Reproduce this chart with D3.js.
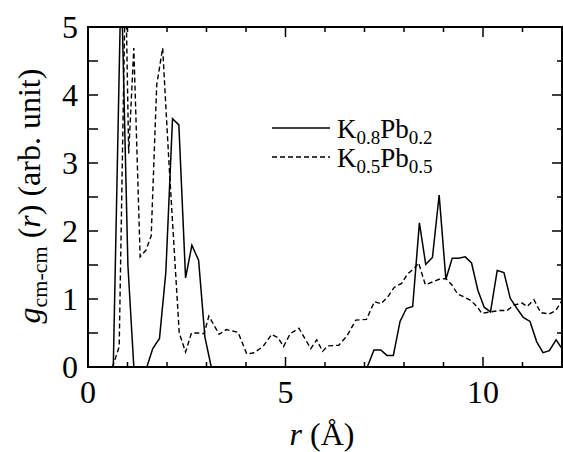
<!DOCTYPE html>
<html>
<head>
<meta charset="utf-8">
<script src="https://cdn.jsdelivr.net/npm/d3@7"></script>
<style>
  html, body { margin: 0; padding: 0; background: #fff; }
  svg { display: block; }
</style>
</head>
<body>
<svg id="chart" width="563" height="452"></svg>
<script>
// ---- data ----
const xTicksMajor = [0, 5, 10];
const xTicksMinor = [0, 1, 2, 3, 4, 5, 6, 7, 8, 9, 10, 11, 12];
const yTicksMajor = [0, 1, 2, 3, 4, 5];
const yTicksMinor = [0, 0.5, 1, 1.5, 2, 2.5, 3, 3.5, 4, 4.5, 5];

// K0.8Pb0.2 (solid)
const rSolid = [0, 0.64, 0.84, 1.01, 1.16, 1.49, 1.64, 1.81, 1.97, 2.14, 2.30, 2.47, 2.63, 2.80, 2.96, 3.12,
  7.07, 7.24, 7.41, 7.57, 7.73, 7.90, 8.06, 8.22, 8.39, 8.55, 8.72, 8.89, 9.06, 9.22, 9.38, 9.55, 9.71,
  9.87, 10.03, 10.19, 10.36, 10.53, 10.69, 10.86, 11.02, 11.19, 11.36, 11.52, 11.68, 11.85, 12.0];
const gSolid = [0, 0, 5.8, 1.5, 0, 0, 0.27, 0.42, 1.39, 3.65, 3.56, 1.31, 1.79, 1.57, 0.44, 0,
  0, 0.25, 0.25, 0.17, 0.17, 0.67, 0.86, 0.89, 2.12, 1.51, 1.61, 2.53, 1.29, 1.60, 1.60, 1.62, 1.53,
  1.13, 0.88, 0.81, 1.42, 1.39, 1.01, 0.86, 0.73, 0.67, 0.37, 0.21, 0.24, 0.40, 0.27];

// K0.5Pb0.5 (dashed)
const rDashed = [0, 0.62, 0.79, 0.95, 1.03, 1.16, 1.32, 1.47, 1.60, 1.74, 1.89, 2.05, 2.31, 2.47, 2.62, 2.78,
  2.94, 3.06, 3.32, 3.50, 3.80, 4.02, 4.20, 4.43, 4.65, 4.81, 4.95, 5.12, 5.34, 5.50, 5.64, 5.79, 5.94,
  6.07, 6.35, 6.56, 6.78, 7.05, 7.25, 7.42, 7.60, 7.75, 7.94, 8.09, 8.26, 8.37, 8.54, 8.72, 8.89, 9.06,
  9.21, 9.36, 9.52, 9.69, 9.86, 9.97, 10.19, 10.40, 10.61, 10.78, 10.99, 11.12, 11.29, 11.46, 11.67, 11.84, 12.0];
const gDashed = [0, 0, 0.3, 5.8, 3.14, 4.69, 1.62, 1.72, 1.93, 4.15, 4.69, 3.0, 0.50, 0.22, 0.50, 0.50,
  0.49, 0.75, 0.48, 0.55, 0.51, 0.19, 0.21, 0.30, 0.48, 0.43, 0.30, 0.49, 0.57, 0.41, 0.27, 0.40, 0.23,
  0.31, 0.32, 0.46, 0.69, 0.70, 0.96, 0.93, 1.04, 1.17, 1.23, 1.37, 1.45, 1.53, 1.21, 1.25, 1.29, 1.30,
  1.21, 1.07, 1.03, 0.98, 0.88, 0.79, 0.81, 0.83, 0.83, 0.91, 0.94, 0.89, 0.99, 0.80, 0.78, 0.83, 0.98];

const seriesLabels = [
  { main: "K", s1: "0.8", mid: "Pb", s2: "0.2" },
  { main: "K", s1: "0.5", mid: "Pb", s2: "0.5" }
];

// ---- layout ----
const FONT = "Liberation Serif";
const svg = d3.select("#chart");
const L = 88, R = 562, T = 27, B = 367;
const x = d3.scaleLinear().domain([0, 12]).range([L, R]);
const y = d3.scaleLinear().domain([0, 5]).range([B, T]);

svg.append("defs").append("clipPath").attr("id", "clip")
  .append("rect").attr("x", L).attr("y", T).attr("width", R - L).attr("height", B - T);

const line = d3.line().x(d => x(d[0])).y(d => y(d[1]));

const plot = svg.append("g").attr("clip-path", "url(#clip)");
plot.append("path")
  .datum(rDashed.map((r, i) => [r, gDashed[i]]))
  .attr("d", line).attr("fill", "none").attr("stroke", "#000")
  .attr("stroke-width", 1.4).attr("stroke-dasharray", "5,3");
plot.append("path")
  .datum(rSolid.map((r, i) => [r, gSolid[i]]))
  .attr("d", line).attr("fill", "none").attr("stroke", "#000")
  .attr("stroke-width", 1.5);

// ---- ticks (inward on all sides) ----
const tk = svg.append("g").attr("stroke", "#000").attr("stroke-width", 1.5);
xTicksMinor.forEach(v => {
  const len = xTicksMajor.includes(v) ? 10 : 5;
  tk.append("line").attr("x1", x(v)).attr("x2", x(v)).attr("y1", B).attr("y2", B - len);
  tk.append("line").attr("x1", x(v)).attr("x2", x(v)).attr("y1", T).attr("y2", T + len);
});
yTicksMinor.forEach(v => {
  const len = yTicksMajor.includes(v) ? 10 : 5;
  tk.append("line").attr("x1", L).attr("x2", L + 10).attr("y1", y(v)).attr("y2", y(v));
  tk.append("line").attr("x1", R).attr("x2", R - len).attr("y1", y(v)).attr("y2", y(v));
});

// frame
svg.append("rect").attr("x", L).attr("y", T).attr("width", R - L).attr("height", B - T)
  .attr("fill", "none").attr("stroke", "#000").attr("stroke-width", 2);

// tick labels
svg.append("g").selectAll("text").data(xTicksMajor).join("text")
  .style("font-family", FONT)
  .attr("x", d => x(d)).attr("y", B + 36).attr("text-anchor", "middle")
  .attr("font-size", 32).text(d => d);
svg.append("g").selectAll("text").data(yTicksMajor).join("text")
  .style("font-family", FONT)
  .attr("x", L - 10).attr("y", d => y(d)).attr("dy", "0.34em").attr("text-anchor", "end")
  .attr("font-size", 32).text(d => d);

// axis titles
const xt = svg.append("text").style("font-family", FONT)
  .attr("x", 322).attr("y", 445).attr("text-anchor", "middle").attr("font-size", 32);
xt.append("tspan").attr("font-style", "italic").text("r");
xt.append("tspan").text(" (Å)");

const yt = svg.append("text").style("font-family", FONT)
  .attr("transform", "translate(40,196) rotate(-90)")
  .attr("text-anchor", "middle").attr("font-size", 32);
yt.append("tspan").attr("font-style", "italic").text("g");
yt.append("tspan").attr("font-size", 22).attr("dy", 7).text("cm-cm");
yt.append("tspan").attr("dy", -7).text(" (");
yt.append("tspan").attr("font-style", "italic").text("r");
yt.append("tspan").text(") (arb. unit)");

// legend
const legY = [128, 157];
seriesLabels.forEach((s, i) => {
  svg.append("line").attr("x1", 272).attr("x2", 330).attr("y1", legY[i]).attr("y2", legY[i])
    .attr("stroke", "#000").attr("stroke-width", 1.5)
    .attr("stroke-dasharray", i === 1 ? "5,3" : null);
  const t = svg.append("text").style("font-family", FONT)
    .attr("x", 337).attr("y", legY[i] + 10).attr("font-size", 27);
  t.append("tspan").text(s.main);
  t.append("tspan").attr("font-size", 19).attr("dy", 6).text(s.s1);
  t.append("tspan").attr("dy", -6).text(s.mid);
  t.append("tspan").attr("font-size", 19).attr("dy", 6).text(s.s2);
});
</script>
</body>
</html>
